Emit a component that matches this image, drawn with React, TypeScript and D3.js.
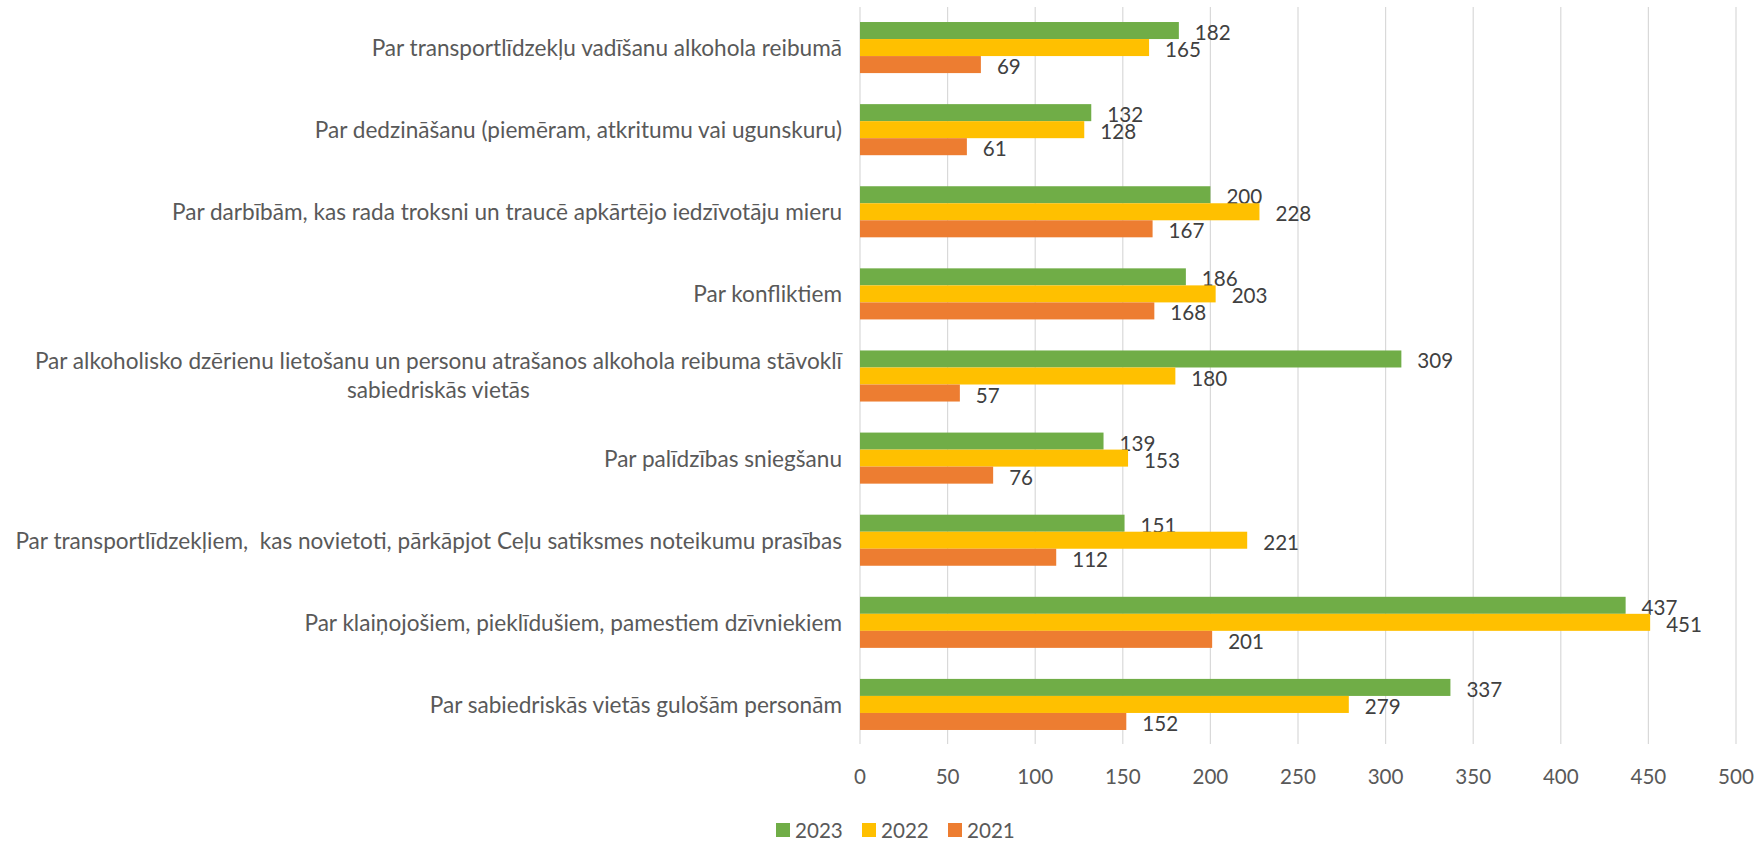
import React, { useLayoutEffect, useRef, useState } from "react";
import * as d3 from "d3";

const categories: string[][] = [
  ["Par transportlīdzekļu vadīšanu alkohola reibumā"],
  ["Par dedzināšanu (piemēram, atkritumu vai ugunskuru)"],
  ["Par darbībām, kas rada troksni un traucē apkārtējo iedzīvotāju mieru"],
  ["Par konfliktiem"],
  ["Par alkoholisko dzērienu lietošanu un personu atrašanos alkohola reibuma stāvoklī", "sabiedriskās vietās"],
  ["Par palīdzības sniegšanu"],
  ["Par transportlīdzekļiem,  kas novietoti, pārkāpjot Ceļu satiksmes noteikumu prasības"],
  ["Par klaiņojošiem, pieklīdušiem, pamestiem dzīvniekiem"],
  ["Par sabiedriskās vietās gulošām personām"],
];

const values2023 = [182, 132, 200, 186, 309, 139, 151, 437, 337];
const values2022 = [165, 128, 228, 203, 180, 153, 221, 451, 279];
const values2021 = [69, 61, 167, 168, 57, 76, 112, 201, 152];

const seriesNames = ["2023", "2022", "2021"];
const seriesColors = ["#70AD47", "#FFC000", "#ED7D31"];
const xTicks = [0, 50, 100, 150, 200, 250, 300, 350, 400, 450, 500];

const W = 1760;
const H = 842;
const FONT = "Lato, 'Open Sans', sans-serif";
const LABEL_SIZE = 22.6;
const VALUE_SIZE = 20.6;

function TwoLineLabel({ lines, right, cy }: { lines: string[]; right: number; cy: number }) {
  const ref = useRef<SVGTextElement>(null);
  const [w, setW] = useState(0);
  useLayoutEffect(() => {
    if (ref.current) setW(ref.current.getComputedTextLength());
  }, []);
  const mid = right - w / 2;
  return (
    <g>
      <text ref={ref} x={right} y={cy - 16} textAnchor="end" dominantBaseline="central" fontSize={LABEL_SIZE} fill="#595959">
        {lines[0]}
      </text>
      <text x={mid} y={cy + 13} textAnchor="middle" dominantBaseline="central" fontSize={LABEL_SIZE} fill="#595959">
        {lines[1]}
      </text>
    </g>
  );
}

export default function App() {
  const x = d3.scaleLinear().domain([0, 500]).range([860, 1736]);
  const idx = categories.map((_, i) => String(i));
  const y = d3
    .scaleBand<string>()
    .domain(idx)
    .range([6.5, 745.5])
    .paddingInner(0.378)
    .paddingOuter(0.189);
  const ySub = d3.scaleBand<string>().domain(seriesNames).range([0, y.bandwidth()]);
  const series = [values2023, values2022, values2021];
  const labelRight = 842;

  return (
    <svg
      width={W}
      height={H}
      style={{ position: "absolute", left: 0, top: 0, background: "#fff" }}
      fontFamily={FONT}
    >
      {xTicks.map((t) => (
        <line key={"g" + t} x1={x(t)} x2={x(t)} y1={7} y2={744} stroke="#D9D9D9" strokeWidth={1.2} />
      ))}
      {xTicks.map((t) => (
        <text
          key={"t" + t}
          x={x(t)}
          y={776}
          textAnchor="middle"
          dominantBaseline="central"
          fontSize={VALUE_SIZE}
          fill="#595959"
        >
          {t}
        </text>
      ))}
      {categories.map((lines, i) => {
        const cy = (y(String(i)) as number) + y.bandwidth() / 2;
        if (lines.length === 1) {
          return (
            <text
              key={"c" + i}
              x={labelRight}
              y={cy}
              textAnchor="end"
              dominantBaseline="central"
              fontSize={LABEL_SIZE}
              fill="#595959"
              style={{ whiteSpace: "pre" }}
            >
              {lines[0]}
            </text>
          );
        }
        return <TwoLineLabel key={"c" + i} lines={lines} right={labelRight} cy={cy} />;
      })}
      {series.map((vals, s) =>
        vals.map((v, i) => {
          const by = (y(String(i)) as number) + (ySub(seriesNames[s]) as number);
          return (
            <g key={`b${s}-${i}`}>
              <rect x={x(0)} y={by} width={x(v) - x(0)} height={ySub.bandwidth()} fill={seriesColors[s]} />
              <text
                x={x(v) + 16}
                y={by + ySub.bandwidth() / 2 + 1.5}
                dominantBaseline="central"
                fontSize={VALUE_SIZE}
                fill="#404040"
              >
                {v}
              </text>
            </g>
          );
        })
      )}
      {seriesNames.map((n, s) => {
        const lx = [776, 862, 948][s];
        return (
          <g key={"l" + n}>
            <rect x={lx} y={823} width={14} height={14} fill={seriesColors[s]} />
            <text x={lx + 19} y={830} dominantBaseline="central" fontSize={VALUE_SIZE} fill="#595959">
              {n}
            </text>
          </g>
        );
      })}
    </svg>
  );
}
